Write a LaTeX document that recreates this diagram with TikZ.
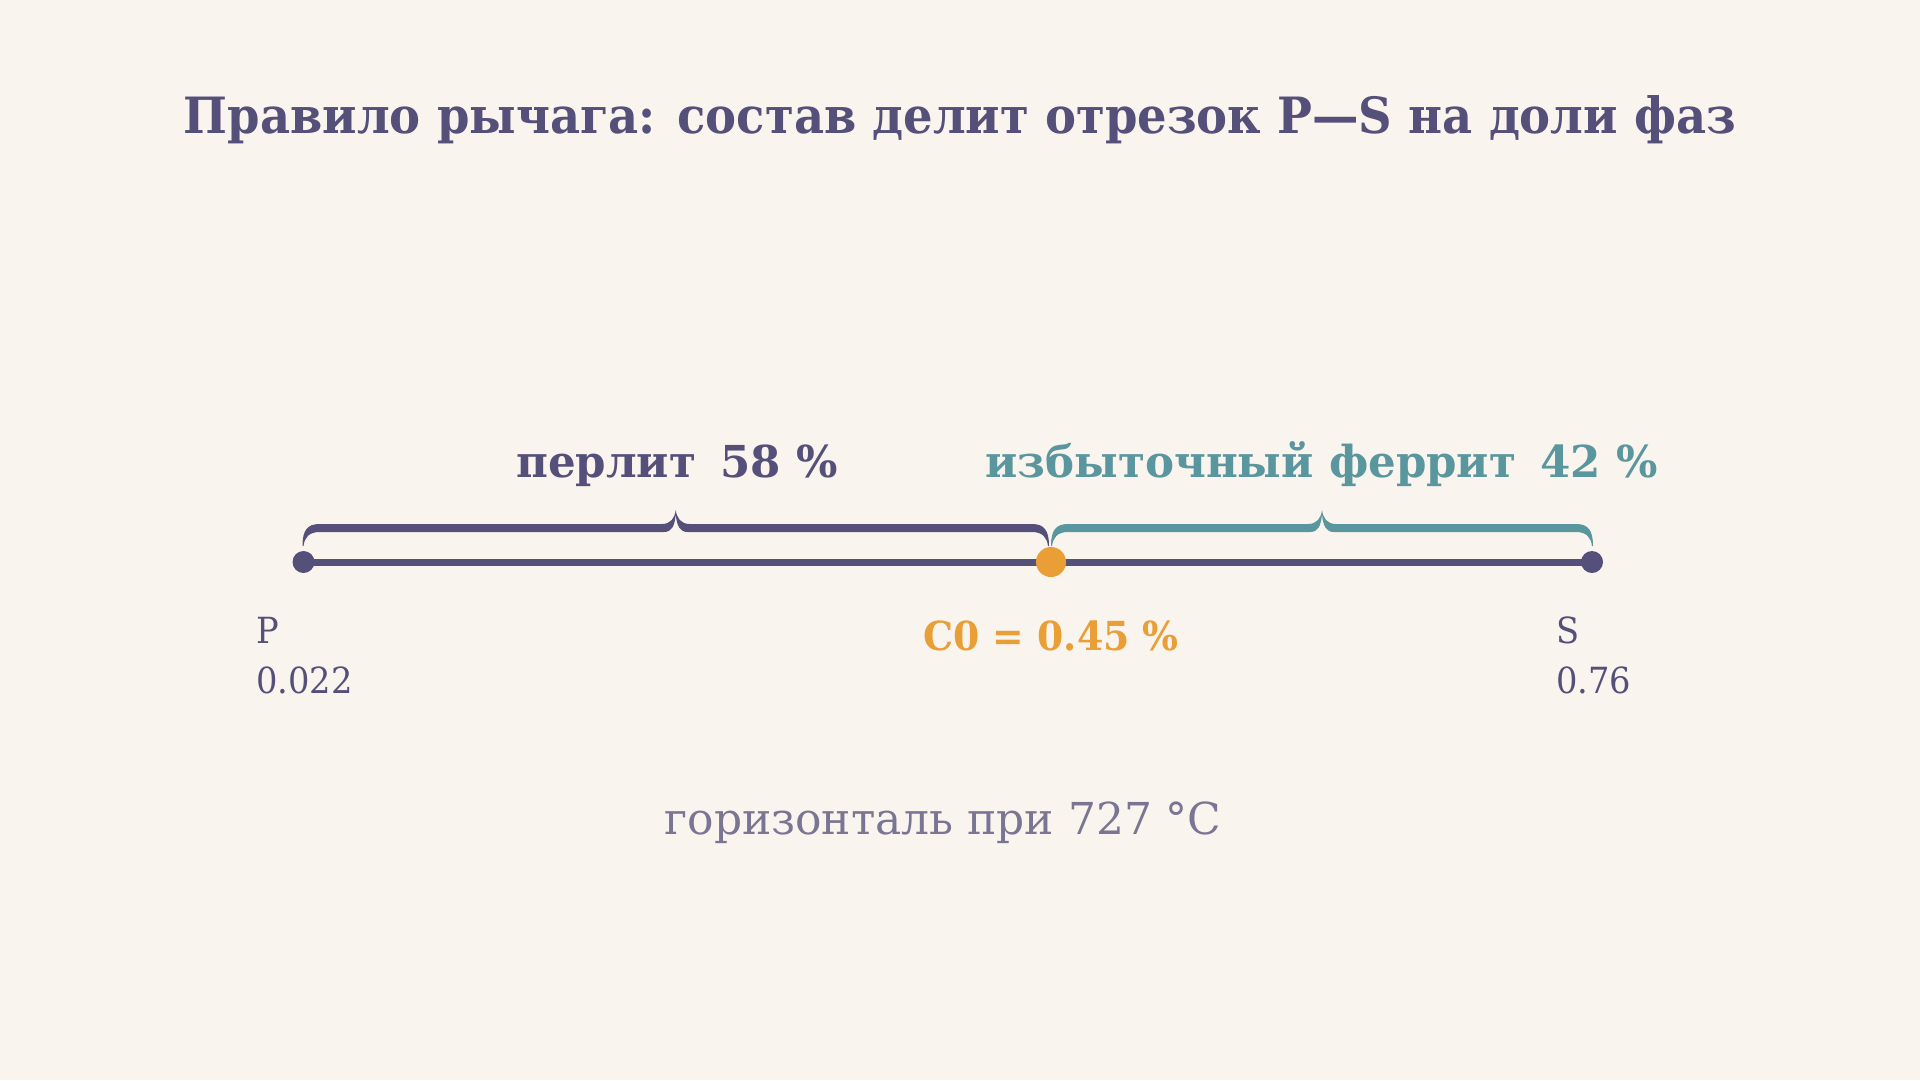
\documentclass[tikz,border=0pt]{standalone}
\usepackage{fontspec}
\setmainfont{DejaVu Serif Condensed}
\newfontfamily\ftitle{DejaVu Serif Condensed}[FakeStretch=1.033]
\newfontfamily\flab{DejaVu Serif Condensed}[FakeStretch=1.10]
\newfontfamily\fcz{DejaVu Serif Condensed}[FakeStretch=1.05]
\newfontfamily\fsub{DejaVu Serif Condensed}[FakeStretch=1.11]
\newfontfamily\fend{DejaVu Serif Condensed}[FakeStretch=1.04]
\usetikzlibrary{calc}
\definecolor{bgc}{HTML}{FAF4EE}
\definecolor{purp}{HTML}{55507A}
\definecolor{teal}{HTML}{5A969D}
\definecolor{oran}{HTML}{E99E36}
\definecolor{subc}{HTML}{7B7594}
\tikzset{
  titletext/.style={font=\ftitle\bfseries\fontsize{50}{60}\selectfont, text=purp, inner sep=0pt, anchor=base},
  phasetext/.style={font=\flab\bfseries\fontsize{44}{52}\selectfont, inner sep=0pt, anchor=base},
  endtext/.style={font=\fend\fontsize{36}{44}\selectfont, text=purp, inner sep=0pt, anchor=base west},
  ctext/.style={font=\fcz\bfseries\fontsize{40}{48}\selectfont, text=oran, inner sep=0pt, anchor=base},
  subtext/.style={font=\fsub\fontsize{44}{52}\selectfont, text=subc, inner sep=0pt, anchor=base},
  lever/.style={draw=purp, line width=7pt},
  enddot/.style={circle, fill=purp, minimum size=22pt, inner sep=0pt},
  cdot/.style={circle, fill=oran, minimum size=30pt, inner sep=0pt},
}
\newcommand\phbrace[3]{%
  \coordinate (bm) at ($(#1)!.5!(#2)$);
  \fill[#3] ($(#1)+(-1,-16)$) .. controls ($(#1)+(-1,-32)$) and ($(#1)+(4,-38)$) .. ($(#1)+(16,-38)$)
    -- ($(bm)+(-14,-38)$) .. controls ($(bm)+(-5,-38)$) and ($(bm)+(-1,-44)$) .. ($(bm)+(0,-52)$)
    .. controls ($(bm)+(1,-44)$) and ($(bm)+(5,-38)$) .. ($(bm)+(14,-38)$)
    -- ($(#2)+(-16,-38)$) .. controls ($(#2)+(-4,-38)$) and ($(#2)+(1,-32)$) .. ($(#2)+(1,-16)$)
    -- ($(#2)+(0,-16)$) .. controls ($(#2)+(-1,-24)$) and ($(#2)+(-5,-30)$) .. ($(#2)+(-16,-30)$)
    -- ($(bm)+(12,-30)$) .. controls ($(bm)+(4,-30)$) and ($(bm)+(1,-36)$) .. ($(bm)+(0,-48)$)
    .. controls ($(bm)+(-1,-36)$) and ($(bm)+(-4,-30)$) .. ($(bm)+(-12,-30)$)
    -- ($(#1)+(16,-30)$) .. controls ($(#1)+(5,-30)$) and ($(#1)+(1,-24)$) .. ($(#1)+(0,-16)$) -- cycle;
}
\begin{document}
\begin{tikzpicture}[x=1pt,y=-1pt]
\fill[bgc] (0,0) rectangle (1920,1080);
\useasboundingbox (0,0) rectangle (1920,1080);

\node[titletext] (title) at (960,133) {Правило рычага: состав делит отрезок P—S на доли фаз};

\coordinate (P) at (303.5,562);
\coordinate (C) at (1051,562);
\coordinate (S) at (1592,562);
\coordinate (Cl) at (1048,562);
\coordinate (Cr) at (1052,562);

\draw[lever] (P) -- (S);
\node[enddot] (Pdot) at (P) {};
\node[enddot] (Sdot) at (S) {};
\node[cdot] (Cdot) at (C) {};

\phbrace{P}{Cl}{purp}
\phbrace{Cr}{S}{teal}

\node[phasetext, text=purp] (perl) at (677,477) {перлит\ \ \hspace{-6pt}58 \%};
\node[phasetext, text=teal] (ferr) at (1321.5,477) {избыточный феррит\ \ \hspace{-6pt}42 \%};

\node[endtext] (Plab) at (256,643) {P};
\node[endtext] (Pval) at (256,693) {0.022};
\node[endtext] (Slab) at (1556,643) {S};
\node[endtext] (Sval) at (1556,693) {0.76};

\node[ctext] (clab) at (1051,650) {C0 = 0.45 \%};

\node[subtext] (sub) at (943,834) {горизонталь при 727 °C};
\end{tikzpicture}
\end{document}
